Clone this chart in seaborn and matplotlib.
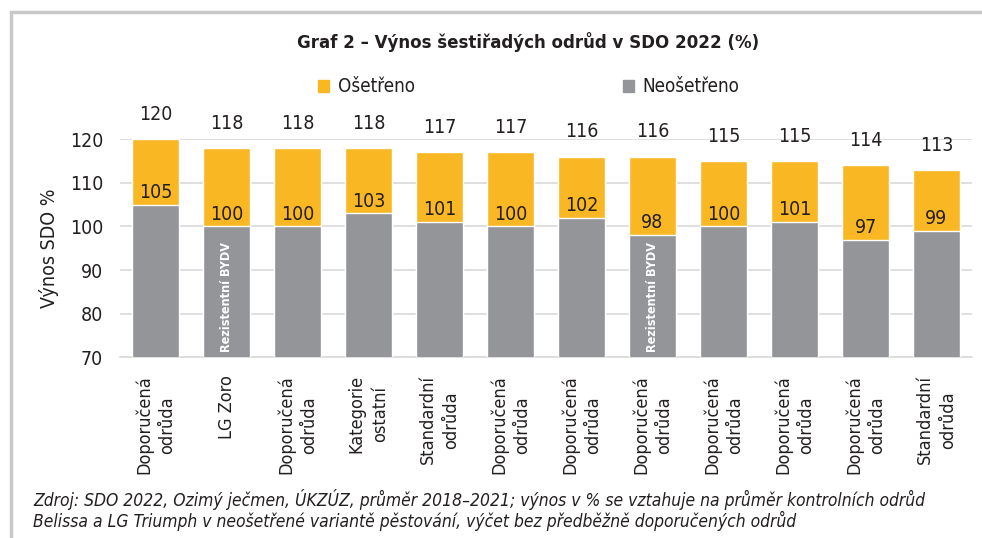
import matplotlib
matplotlib.use("Agg")
import matplotlib.pyplot as plt
import seaborn as sns
import pandas as pd
from matplotlib.patches import Rectangle

categories = ["Doporučená\nodrůda", "LG Zoro", "Doporučená\nodrůda", "Kategorie\nostatní",
              "Standardní\nodrůda", "Doporučená\nodrůda", "Doporučená\nodrůda", "Doporučená\nodrůda",
              "Doporučená\nodrůda", "Doporučená\nodrůda", "Doporučená\nodrůda", "Standardní\nodrůda"]
treated = [120, 118, 118, 118, 117, 117, 116, 116, 115, 115, 114, 113]
untreated = [105, 100, 100, 103, 101, 100, 102, 98, 100, 101, 97, 99]
resistant_idx = [1, 7]
yticks = [70, 80, 90, 100, 110, 120]

sns.set_theme(style="white")
plt.rcParams["font.family"] = ["DejaVu Sans"]
plt.rcParams["font.stretch"] = "condensed"

YEL = "#F9B823"
GRY = "#939598"
TXT = "#231F20"

df = pd.DataFrame({"pos": list(range(len(categories))), "treated": treated, "untreated": untreated})

fig = plt.figure(figsize=(9.82, 5.38), dpi=100)
ax = fig.add_axes([120/982, 1-357.3/538, 852/982, 218/538])

sns.barplot(data=df, x="pos", y="treated", color=YEL, saturation=1, width=0.676, ax=ax, zorder=2)
sns.barplot(data=df, x="pos", y="untreated", color=GRY, saturation=1, width=0.676, ax=ax, zorder=3)

ax.set_ylim(70, 120)
ax.set_xlim(-0.5, len(categories) - 0.5)
ax.set_yticks(yticks)
ax.set_yticklabels([str(t) for t in yticks], fontsize=14, color=TXT)
ax.yaxis.grid(True, color="#D9D9D9", linewidth=1.2, zorder=0)
ax.set_axisbelow(True)
for s in ["top", "right", "left"]:
    ax.spines[s].set_visible(False)
ax.spines["bottom"].set_color("#D9D9D9")
ax.spines["bottom"].set_linewidth(1.2)
ax.tick_params(axis="both", length=0, pad=12)
ax.set_xticks(range(len(categories)))
ax.set_xticklabels(categories, rotation=90, fontsize=13, color=TXT, va="top", ha="center",
                   multialignment="center", linespacing=1.4)
ax.tick_params(axis="x", pad=13)
ax.set_xlabel("")
ax.set_ylabel("Výnos SDO %", fontsize=14, color=TXT, labelpad=8)

for i, (t, u) in enumerate(zip(treated, untreated)):
    ax.annotate(str(t), (i, t), xytext=(0, 11), textcoords="offset points", ha="center",
                va="bottom", fontsize=14, color=TXT, annotation_clip=False)
    ax.annotate(str(u), (i, u), xytext=(0, 2), textcoords="offset points", ha="center",
                va="bottom", fontsize=14, color=TXT, zorder=5)
for i in resistant_idx:
    ax.text(i, 71.2, "Rezistentní BYDV", rotation=90, ha="center", va="bottom", color="white",
            fontsize=9, fontweight="bold", zorder=6)

# legend
legend_labels = ["Ošetřeno", "Neošetřeno"]
legend_colors = [YEL, GRY]
legend_x = [318, 623]
for lab, col, lx in zip(legend_labels, legend_colors, legend_x):
    fig.legend([Rectangle((0, 0), 1, 1, color=col)], [lab], loc="center left",
               bbox_to_anchor=(lx/982, 1-87/538), frameon=False, fontsize=13.5,
               handlelength=0.6, handleheight=0.6, handletextpad=0.45, borderpad=0,
               borderaxespad=0, labelcolor=TXT)

fig.text(528/982, 1-42/538, "Graf 2 – Výnos šestiřadých odrůd v SDO 2022 (%)", ha="center",
         va="center", fontsize=13.3, fontweight="bold", color=TXT)
fig.text(33/982, 1-500/538,
         "Zdroj: SDO 2022, Ozimý ječmen, ÚKZÚZ, průměr 2018–2021; výnos v % se vztahuje na průměr kontrolních odrůd",
         ha="left", va="center", fontsize=12.5, style="italic", color=TXT)
fig.text(33/982, 1-521/538,
         "Belissa a LG Triumph v neošetřené variantě pěstování, výčet bez předběžně doporučených odrůd",
         ha="left", va="center", fontsize=12.5, style="italic", color=TXT)

# frame
fig.add_artist(Rectangle((11/982, -0.1), 1.2, 1 - 12/538 + 0.1, transform=fig.transFigure,
                         fill=False, edgecolor="#C8C8C8", linewidth=2.5))

fig.savefig("out.png", dpi=100)
